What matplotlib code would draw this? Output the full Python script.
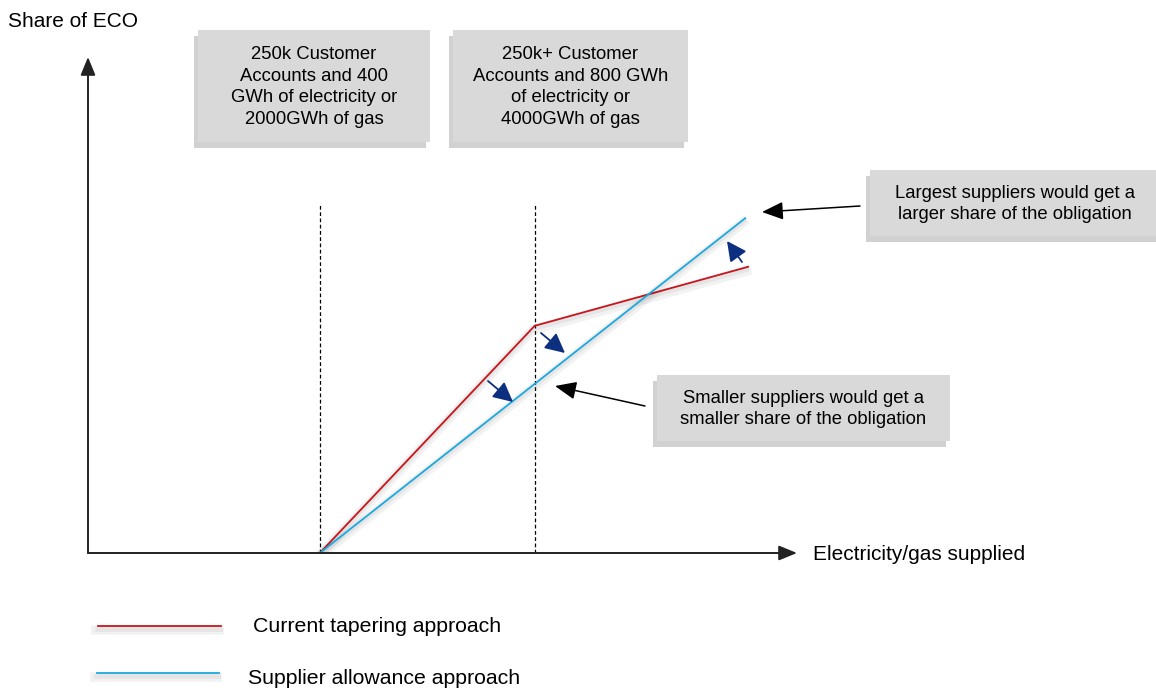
import matplotlib
matplotlib.use("Agg")
import matplotlib.pyplot as plt
import matplotlib.patheffects as pe
from matplotlib.patches import Rectangle

plt.rcParams['font.family'] = ['Liberation Sans', 'DejaVu Sans']

# thresholds on the supply axis (arbitrary units, 0-10 scale)
thresholds = [3.27, 6.30]
threshold_top = 7.02

# current tapering approach: zero up to first threshold, kink at second
taper_x = [3.27, 6.30, 9.31]
taper_y = [0.0, 4.58, 5.77]

# supplier allowance approach: straight line from first threshold
allow_x = [3.27, 9.27]
allow_y = [0.0, 6.75]

box_texts = ["250k Customer\nAccounts and 400\nGWh of electricity or\n2000GWh of gas",
             "250k+ Customer\nAccounts and 800 GWh\nof electricity or\n4000GWh of gas"]
note_large = "Largest suppliers would get a\nlarger share of the obligation"
note_small = "Smaller suppliers would get a\nsmaller share of the obligation"
legend_labels = ["Current tapering approach", "Supplier allowance approach"]

red = "#c8161d"
blue = "#1ca9e0"
navy = "#0d2f80"

W, H = 1156, 691
fig = plt.figure(figsize=(W / 100, H / 100), dpi=100)

def px_rect(x0, y0, x1, y1):
    return [x0 / W, 1 - y1 / H, (x1 - x0) / W, (y1 - y0) / H]

# chart axes
ax = fig.add_axes(px_rect(88, 57, 797, 553))
ax.set_xlim(0, 10)
ax.set_ylim(0, 10)
ax.axis('off')

# soft shadow under the lines
shadow = [pe.SimpleLineShadow(offset=(-1.5, -3), shadow_color='k', alpha=0.05, linewidth=7),
          pe.SimpleLineShadow(offset=(-1, -2), shadow_color='k', alpha=0.05, linewidth=3.5),
          pe.Normal()]

arrow_kw = dict(arrowstyle='-|>,head_length=1.1,head_width=0.45', color='#222222', lw=1.4,
                shrinkA=0, shrinkB=0)
ax.annotate('', xy=(0, 1), xytext=(0, 0), xycoords='axes fraction', arrowprops=arrow_kw)
ax.annotate('', xy=(1, 0), xytext=(0, 0), xycoords='axes fraction', arrowprops=arrow_kw)

for t in thresholds:
    ax.plot([t, t], [0, threshold_top], color='black', lw=0.9, ls=(0, (3, 2)))

ax.plot(taper_x, taper_y, color=red, lw=1.3, path_effects=shadow, solid_joinstyle='miter')
ax.plot(allow_x, allow_y, color=blue, lw=1.3, path_effects=shadow)

# overlay axes in pixel coordinates for notes and legend
ov = fig.add_axes([0, 0, 1, 1])
ov.set_xlim(0, W)
ov.set_ylim(H, 0)
ov.axis('off')

ov.text(8, 21, "Share of ECO", fontsize=15, va='center', ha='left')
ov.text(813, 555, "Electricity/gas supplied", fontsize=15, va='center', ha='left')

box_shadow = [pe.withSimplePatchShadow(offset=(-3, -4), shadow_rgbFace='#8c8c8c', alpha=0.4)]

def note_box(x0, y0, x1, y1, text, size):
    r = Rectangle((x0, y0), x1 - x0, y1 - y0, facecolor='#d9d9d9', edgecolor='none',
                  path_effects=box_shadow, zorder=2)
    ov.add_patch(r)
    ov.text((x0 + x1) / 2, (y0 + y1) / 2 + 1, text, ha='center', va='center', fontsize=size,
            linespacing=1.38, zorder=3)

note_box(198, 30, 430, 142, box_texts[0], 13.3)
note_box(453, 30, 688, 142, box_texts[1], 13.3)
note_box(870, 170, 1160, 236, note_large, 13.3)
note_box(657, 375, 950, 441, note_small, 13.3)

black_arrow = dict(arrowstyle='-|>,head_length=1.3,head_width=0.55', color='black', lw=1.1,
                   shrinkA=0, shrinkB=0)
ov.annotate('', xy=(762, 212), xytext=(860, 206), arrowprops=black_arrow)
ov.annotate('', xy=(555, 386), xytext=(645, 406), arrowprops=black_arrow)

navy_arrow = dict(arrowstyle='-|>,head_length=1.2,head_width=0.6', color=navy, lw=1.3,
                  shrinkA=0, shrinkB=0)
ov.annotate('', xy=(513, 402), xytext=(488, 381), arrowprops=navy_arrow)
ov.annotate('', xy=(565, 353), xytext=(541, 333), arrowprops=navy_arrow)
ov.annotate('', xy=(727, 241), xytext=(742, 262), arrowprops=navy_arrow)

# legend
ov.plot([98, 221], [626, 626], color=red, lw=1.3, path_effects=shadow)
ov.plot([97, 219], [673, 673], color=blue, lw=1.3, path_effects=shadow)
ov.text(253, 627, legend_labels[0], fontsize=15.3, va='center', ha='left')
ov.text(248, 679, legend_labels[1], fontsize=15.3, va='center', ha='left')

fig.savefig("out.png", dpi=100, facecolor='white')
